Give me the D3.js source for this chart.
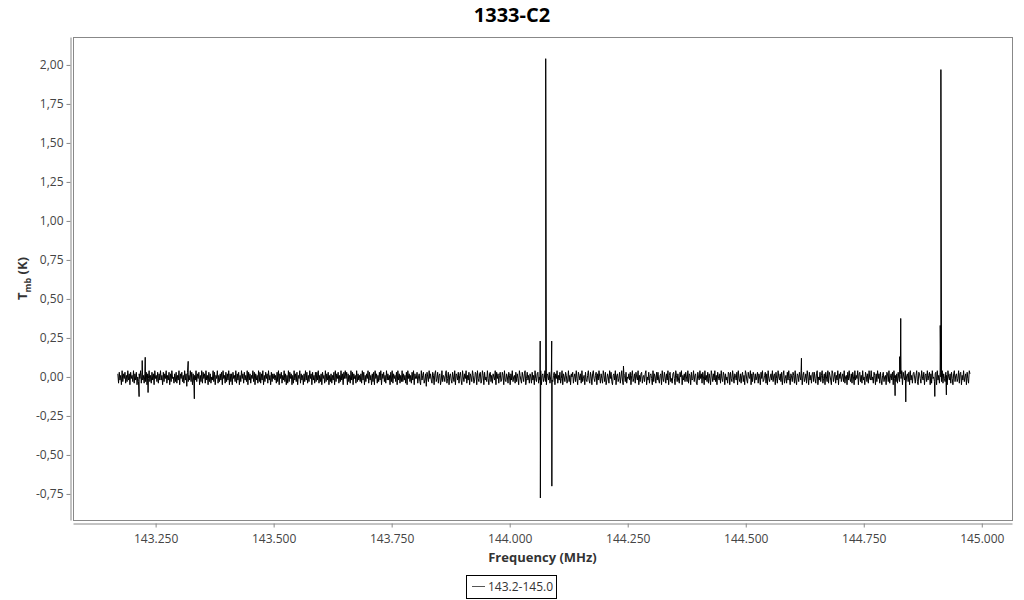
<!DOCTYPE html>
<html lang="en">
<head>
  <meta charset="UTF-8" />
  <title>1333-C2</title>
  <script src="https://cdn.jsdelivr.net/npm/d3@7/dist/d3.min.js"></script>
  <style>
    body { margin: 0; background: #fff; font-family: "Open Sans", sans-serif; }
    .frame { fill: none; stroke: #888; stroke-width: 1px; }
    .axis path, .axis line { stroke: #888; }
    .axis text { fill: #444; font-size: 12px; font-family: "Open Sans", sans-serif; }
    .spec-line { fill: none; stroke: #000; stroke-width: 1px; }
  </style>
</head>
<body>
<script>
  // channel axis of the spectrum
  var freqStart = 143.170;
  var freqEnd = 144.975;

  // baseline noise (K)
  var noise = [
    .02,-.04,.03,-.02,.01,-.05,.04,-.03,.02,-.01,.03,-.04,.01,-.03,.04,-.02,.02,-.05,.03,-.01,
    .01,-.03,.04,-.04,.02,-.02,.03,-.05,.00,-.03,.02,-.01,.04,-.04,.03,-.02,.01,-.04,.02,-.03,
    .03,-.05,.02,-.01,.04,-.03,.01,-.04,.03,-.02,.02,-.05,.04,-.01,.01,-.03,.03,-.04,.02,-.02,
    .04,-.02,.01,-.05,.03,-.03,.02,-.01,.04,-.04,.01,-.02,.03,-.05,.02,-.03,.04,-.01,.00,-.04,
    .02,-.03,.03,-.04,.01,-.02,.04,-.05,.02,-.01,.03,-.03,.01,-.04,.04,-.02,.02,-.06,.03,-.03,
    .01,-.02,.04,-.03,.03,-.05,.02,-.04,.01,-.02,.04,-.03,.02,-.01,.03,-.05,.01,-.03,.04,-.04,
    .03,-.01,.02,-.04,.04,-.02,.01,-.05,.03,-.03,.02,-.04,.00,-.02,.04,-.03,.03,-.05,.01,-.01,
    .04,-.04,.01,-.03,.02,-.02,.03,-.05,.04,-.01,.01,-.04,.03,-.03,.02,-.02,.04,-.05,.02,-.03,
    .02,-.05,.03,-.01,.01,-.03,.04,-.04,.02,-.02,.03,-.05,.01,-.03,.04,-.01,.02,-.04,.03,-.02,
    .01,-.03,.04,-.05,.03,-.02,.02,-.04,.01,-.01,.04,-.03,.03,-.05,.02,-.02,.01,-.04,.04,-.03,
    .03,-.04,.02,-.02,.04,-.05,.01,-.03,.03,-.01,.02,-.04,.04,-.02,.01,-.05,.03,-.03,.02,-.01,
    .02,-.02,.01,-.04,.03,-.03,.04,-.05,.02,-.01,.03,-.04,.01,-.02,.04,-.03,.02,-.05,.01,-.04,
    .04,-.03,.03,-.01,.02,-.05,.01,-.04,.04,-.02,.02,-.03,.03,-.05,.01,-.01,.04,-.04,.02,-.02,
    .01,-.05,.02,-.03,.04,-.02,.03,-.04,.01,-.03,.04,-.01,.02,-.05,.03,-.02,.01,-.04,.03,-.03,
    .03,-.02,.04,-.04,.01,-.03,.02,-.05,.03,-.01,.01,-.04,.04,-.03,.02,-.02,.03,-.05,.01,-.03,
    .02,-.04,.01,-.02,.03,-.05,.04,-.03,.02,-.01,.03,-.04,.01,-.03,.04,-.02,.02,-.05,.03,-.01,
    .04,-.01,.03,-.05,.02,-.03,.01,-.04,.04,-.02,.03,-.05,.02,-.01,.01,-.04,.04,-.03,.02,-.02,
    .01,-.03,.02,-.04,.04,-.02,.03,-.05,.01,-.03,.02,-.01,.04,-.04,.03,-.02,.01,-.05,.02,-.03,
    .03,-.05,.04,-.01,.02,-.04,.01,-.03,.03,-.02,.04,-.05,.02,-.01,.03,-.03,.01,-.04,.04,-.02,
    .02,-.02,.01,-.05,.03,-.03,.04,-.04,.02,-.01,.01,-.03,.03,-.05,.04,-.02,.02,-.04,.01,-.03,
    .04,-.03,.02,-.02,.01,-.04,.03,-.05,.04,-.01,.02,-.03,.01,-.04,.03,-.02,.04,-.05,.02,-.01,
    -.01,.03,-.04,.00,.02,-.03,-.05,.04,-.02,.01,.03,-.04,-.02,.02,-.06,.03,.00,-.03,.04,-.01,
    .02,-.02,-.04,.03,.01,-.05,.02,.04,-.03,-.01,.03,-.04,.01,.02,-.05,-.02,.04,-.03,.01,.00,
    -.03,.02,.04,-.04,-.01,.03,-.05,.01,.02,-.02,-.04,.03,.00,-.03,.04,-.05,.02,.01,-.02,.03,
    -.04,.01,.03,-.02,-.05,.04,.00,-.03,.02,-.01,.04,-.04,.01,-.02,.03,-.05,.02,.00,-.03,.04,
    .01,-.04,-.02,.03,.02,-.05,.04,-.01,-.03,.02,.03,-.04,-.02,.04,.01,-.05,.03,-.02,.00,-.03,
    .04,-.01,-.05,.02,.03,-.03,.01,-.04,.02,.00,-.02,.04,-.05,.03,-.01,.02,-.04,.01,.03,-.03,
    -.02,.03,.01,-.05,.04,-.02,-.03,.02,.00,-.04,.03,.01,-.05,.02,-.02,.04,-.03,.00,.01,-.04,
    .03,-.03,.02,-.01,-.05,.04,.01,-.02,-.04,.03,.00,-.03,.02,.04,-.05,-.01,.03,-.02,.01,-.04,
    .02,.00,-.04,.03,-.02,.01,-.05,.04,-.01,-.03,.02,.03,-.04,.00,-.02,.04,-.05,.01,.02,-.03,
    -.01,.04,-.03,-.05,.02,.01,-.02,.03,-.04,.00,.04,-.02,-.03,.01,.03,-.05,.02,-.01,.04,-.04,
    .01,-.02,.03,-.04,-.01,.04,-.05,.02,.00,-.03,.03,.01,-.04,-.02,.04,-.03,.01,-.05,.02,.00,
    .03,-.04,.00,.02,-.03,.04,-.01,-.05,.03,.01,-.02,.02,-.04,.04,-.03,-.01,.01,-.05,.03,-.02,
    -.03,.01,.04,-.02,-.04,.03,.00,-.05,.02,.04,-.01,-.03,.01,.03,-.05,.02,-.02,.04,.00,-.04,
    .02,-.01,-.04,.04,.01,-.03,.03,-.05,-.02,.02,.00,-.04,.04,-.01,.03,-.03,-.05,.01,.02,-.02,
    .04,-.05,.01,.02,-.03,-.01,.03,-.04,.00,.04,-.02,-.05,.02,.01,-.03,.03,-.04,.00,-.01,.02,
    -.02,.03,-.05,.01,.04,-.03,-.01,.02,-.04,.03,.00,-.02,.04,-.05,.01,-.03,.02,.03,-.04,.00,
    .01,-.03,.02,.04,-.05,.00,-.02,.03,-.04,.01,.02,-.01,-.05,.04,-.03,.02,.00,-.04,.03,-.02,
    .03,-.02,-.04,.01,.02,-.05,.04,-.01,-.03,.03,.00,-.04,.02,-.02,.04,-.05,.01,.03,-.03,-.01,
    -.04,.02,.03,-.01,-.05,.04,.01,-.03,.02,-.02,-.04,.03,.00,.04,-.05,.01,-.02,.02,-.03,.03,
    .00,-.03,.04,-.04,.02,.01,-.05,.03,-.02,-.01,.04,-.03,.01,.02,-.04,-.05,.03,.00,-.02,.04,
    -.01,.02,-.04,.03,.00,-.05,.04,-.02,.01,-.03,.03,-.04,.02,-.01,-.05,.04,.01,-.03,.02,-.02,
    .04,-.03,.01,-.05,.03,.00,-.02,.02,-.04,.04,-.01,-.03,.03,.01,-.05,.02,-.02,.00,-.04,.03,
    .02,-.05,.03,-.01,-.03,.04,.00,-.04,.02,.01,-.02,.03,-.05,.04,-.01,-.03,.02,-.04,.01,.03,
    -.03,.01,-.05,.04,.02,-.02,-.04,.03,.00,-.01,.04,-.05,.02,-.03,.03,.01,-.04,.02,-.02,.00,
    .03,-.04,.02,.00,-.05,.03,-.01,.04,-.03,-.02,.01,.03,-.04,.02,-.05,.04,-.01,-.03,.00,.02,
    -.02,.04,-.03,.01,.02,-.05,.03,-.01,-.04,.04,.00,-.02,.02,-.03,.03,-.05,.01,.04,-.04,-.01,
    .01,-.04,.03,-.02,.04,-.01,-.05,.02,.00,-.03,.03,.01,-.04,.04,-.02,-.05,.02,.01,-.03,.03,
    .00,-.02,.04,-.05,.01,.03,-.03,-.01,.02,-.04,.04,.00,-.05,.03,-.02,.01,-.04,.02,.03,-.03,
    .03,-.01,-.04,.02,.04,-.05,.00,-.02,.03,-.03,.01,.04,-.04,-.01,.02,-.05,.03,.00,-.03,.04,
    -.04,.03,.01,-.02,-.05,.04,.02,-.03,.00,.03,-.04,.01,-.02,.04,-.05,.02,-.01,.03,-.03,.00,
    .02,-.03,.04,-.04,.00,.01,-.05,.03,-.02,.04,-.01,-.03,.02,-.04,.03,.00,-.05,.04,-.02,.01,
    -.01,.04,-.05,.02,.03,-.03,.01,-.04,.04,-.02,.00,-.05,.03,.01,-.03,.02,-.04,.04,-.01,-.02,
    .04,-.02,.00,-.04,.03,.01,-.05,.02,-.03,.04,-.01,.02,-.04,.03,-.02,-.05,.01,.03,-.03,.00,
    .01,-.05,.03,.02,-.03,.04,-.04,.00,.02,-.02,.03,-.05,.04,-.01,.01,-.03,.02,-.04,.03,-.01,
    -.03,.02,-.01,.04,-.05,.03,.00,-.02,.04,-.04,.01,.02,-.03,.03,-.05,.04,-.02,.01,-.04,.02,
    .03,.00,-.04,.01,.04,-.03,-.05,.03,.02,-.01,-.04,.04,.00,-.02,.03,-.05,.01,.02,-.03,.04,
    -.02,.01,.03,-.05,.02,-.04,.04,-.01,.00,-.03,.02,.03,-.05,.04,-.02,.01,-.04,.03,.00,-.03,
    .04,-.04,.02,-.01,-.03,.03,.01,-.05,.04,.00,-.02,.02,-.04,.03,-.01,-.05,.02,.04,-.03,.01,
    .02,-.03,-.01,.04,-.04,.02,.03,-.05,.01,-.02,.04,-.03,.00,.02,-.05,.03,-.01,-.04,.04,.02
  ];

  // line features: frequency (MHz), T_mb (K)
  var spikeFreq = [143.215, 143.2216, 143.228, 143.234, 143.319, 143.332,
                   144.0646, 144.0650, 144.0763, 144.0890, 144.0893, 144.241,
                   144.618, 144.8164, 144.826, 144.8283, 144.839, 144.9005,
                   144.912, 144.9134, 144.925];
  var spikeTmb = [-0.126, 0.105, 0.126, -0.10, 0.10, -0.14,
                  0.23, -0.776, 2.04, 0.23, -0.70, 0.07,
                  0.12, -0.12, 0.13, 0.375, -0.16, -0.125,
                  0.33, 1.97, -0.115];

  var xTicks = [143.25, 143.5, 143.75, 144.0, 144.25, 144.5, 144.75, 145.0];
  var yTicks = [-0.75, -0.5, -0.25, 0, 0.25, 0.5, 0.75, 1.0, 1.25, 1.5, 1.75, 2.0];

  var w = 1024, h = 600;
  var plot = { left: 73, right: 1012, top: 37, bottom: 520 };

  var step = (freqEnd - freqStart) / (noise.length - 1);
  var data = noise.map(function(t, i) {
    return { f: freqStart + i * step, t: t };
  });
  spikeFreq.forEach(function(f, i) {
    data.push({ f: f, t: spikeTmb[i] });
  });
  data.sort(function(a, b) { return a.f - b.f; });

  var svg = d3.select("body").append("svg")
    .attr("width", w)
    .attr("height", h);

  var xScale = d3.scaleLinear()
    .domain([143.075, 145.064])
    .range([plot.left, plot.right]);

  var yScale = d3.scaleLinear()
    .domain([-0.917, 2.179])
    .range([plot.bottom, plot.top]);

  var commaFmt = d3.formatLocale({
    decimal: ",", thousands: ".", grouping: [3], currency: ["", ""], minus: "-"
  }).format(".2f");

  svg.append("rect")
    .attr("class", "frame")
    .attr("x", plot.left + 0.5)
    .attr("y", plot.top + 0.5)
    .attr("width", plot.right - plot.left)
    .attr("height", plot.bottom - plot.top);

  var line = d3.line()
    .x(function(d) { return xScale(d.f); })
    .y(function(d) { return yScale(d.t); });

  svg.append("path")
    .datum(data)
    .attr("class", "spec-line")
    .attr("d", line);

  var xAxis = d3.axisBottom(xScale)
    .tickValues(xTicks)
    .tickFormat(d3.format(".3f"))
    .tickSize(4)
    .tickSizeOuter(0);

  var yAxis = d3.axisLeft(yScale)
    .tickValues(yTicks)
    .tickFormat(commaFmt)
    .tickSize(4)
    .tickSizeOuter(0);

  svg.append("g")
    .attr("class", "axis")
    .attr("transform", "translate(0," + (plot.bottom + 3.5) + ")")
    .call(xAxis)
    .call(function(g) { g.selectAll("text").attr("dy", "1.05em"); });

  svg.append("g")
    .attr("class", "axis")
    .attr("transform", "translate(" + (plot.left - 2.5) + ",0)")
    .call(yAxis)
    .call(function(g) { g.selectAll("text").attr("x", -7); });

  // title
  svg.append("text")
    .attr("x", w / 2)
    .attr("y", 22)
    .attr("text-anchor", "middle")
    .style("font-size", "20px")
    .style("font-weight", "bold")
    .style("fill", "#000")
    .text("1333-C2");

  // x axis label
  svg.append("text")
    .attr("x", (plot.left + plot.right) / 2)
    .attr("y", 562)
    .attr("text-anchor", "middle")
    .style("font-size", "13px")
    .style("font-weight", "bold")
    .style("fill", "#333")
    .text("Frequency (MHz)");

  // y axis label with subscript
  var yLab = svg.append("text")
    .attr("transform", "translate(27," + ((plot.top + plot.bottom) / 2) + ") rotate(-90)")
    .attr("text-anchor", "middle")
    .style("font-size", "13px")
    .style("font-weight", "bold")
    .style("fill", "#333");
  yLab.append("tspan").text("T");
  yLab.append("tspan").attr("dy", 4).style("font-size", "9px").text("mb");
  yLab.append("tspan").attr("dy", -4).text(" (K)");

  // legend
  var lg = svg.append("g").attr("transform", "translate(466,575)");
  lg.append("rect")
    .attr("x", 0.5).attr("y", 0.5)
    .attr("width", 90).attr("height", 23)
    .attr("fill", "#fff").attr("stroke", "#000");
  lg.append("line")
    .attr("x1", 6).attr("x2", 19)
    .attr("y1", 11.5).attr("y2", 11.5)
    .attr("stroke", "#555");
  lg.append("text")
    .attr("x", 22).attr("y", 16)
    .style("font-size", "12px")
    .style("fill", "#333")
    .text("143.2-145.0");
</script>
</body>
</html>
